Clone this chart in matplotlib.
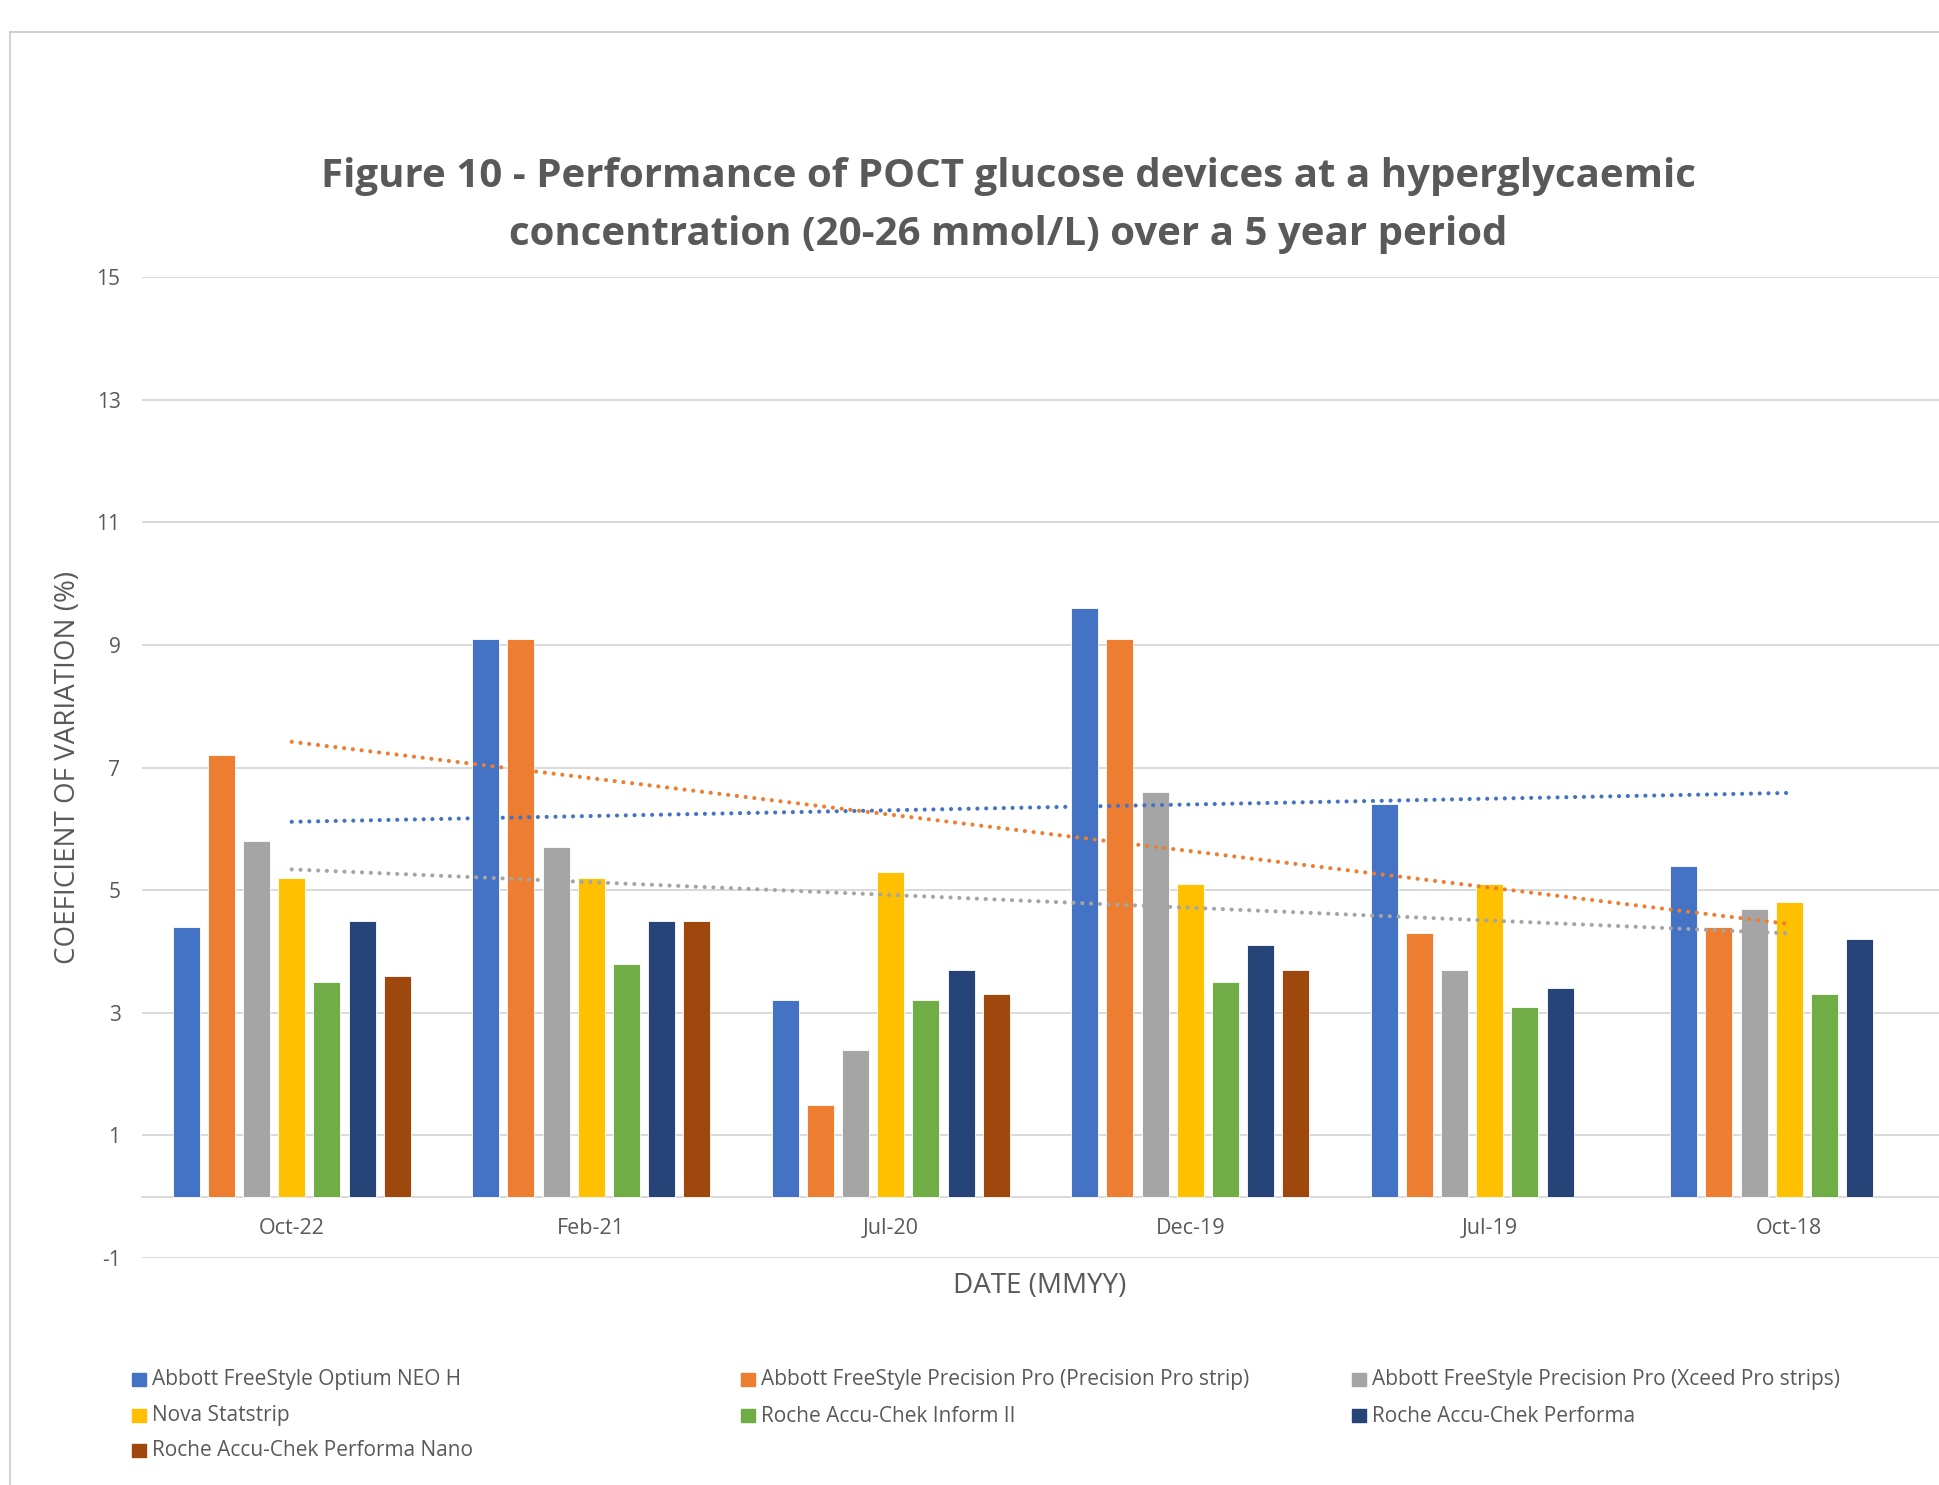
import numpy as np
import matplotlib.pyplot as plt
from matplotlib.patches import Rectangle
from matplotlib.lines import Line2D

plt.rcParams['font.family'] = ['Open Sans', 'DejaVu Sans']
plt.rcParams['axes.unicode_minus'] = False

# ---------------- data ----------------
dates = ['Oct-22', 'Feb-21', 'Jul-20', 'Dec-19', 'Jul-19', 'Oct-18']

devices = ['Abbott FreeStyle Optium NEO H',
           'Abbott FreeStyle Precision Pro (Precision Pro strip)',
           'Abbott FreeStyle Precision Pro (Xceed Pro strips)',
           'Nova Statstrip',
           'Roche Accu-Chek Inform II',
           'Roche Accu-Chek Performa',
           'Roche Accu-Chek Performa Nano']

optium_neo = [4.4, 9.1, 3.2, 9.6, 6.4, 5.4]
precision_pro = [7.2, 9.1, 1.5, 9.1, 4.3, 4.4]
xceed_pro = [5.8, 5.7, 2.4, 6.6, 3.7, 4.7]
nova = [5.2, 5.2, 5.3, 5.1, 5.1, 4.8]
inform2 = [3.5, 3.8, 3.2, 3.5, 3.1, 3.3]
performa = [4.5, 4.5, 3.7, 4.1, 3.4, 4.2]
performa_nano = [3.6, 4.5, 3.3, 3.7, np.nan, np.nan]

series = [optium_neo, precision_pro, xceed_pro, nova, inform2, performa, performa_nano]
colors = ['#4472C4', '#ED7D31', '#A5A5A5', '#FFC000', '#70AD47', '#264478', '#9E480E']
trend_series = [0, 1, 2]   # linear trendlines shown for the first three devices

txt = '#595959'
grid_c = '#D9D9D9'

# ---------------- figure ----------------
W, H = 1939, 1485
fig = plt.figure(figsize=(W / 100, H / 100), dpi=100)

# chart-area border (cropped on right / bottom)
fig.add_artist(Line2D([10 / W, 10 / W], [0, 1 - 32 / H], color='#C8C8C8', lw=1.2))
fig.add_artist(Line2D([10 / W, 1], [1 - 32 / H, 1 - 32 / H], color='#C8C8C8', lw=1.2))

ax = fig.add_axes([142 / W, 1 - 1258 / H, 1797 / W, 981 / H])

x = np.arange(len(dates))
pitch = 0.1174
width = 0.0902
for j, vals in enumerate(series):
    ax.bar(x + (j - 3) * pitch, vals, width, color=colors[j], edgecolor='white',
           linewidth=0.6, zorder=3, label=devices[j])

for j in trend_series:
    k, b = np.polyfit(x, series[j], 1)
    ax.plot(x, k * x + b, color=colors[j], lw=3.0, linestyle=(0, (0.01, 2.1)),
            dash_capstyle='round', zorder=4)

ax.set_xlim(-0.5, 5.5)
ax.set_ylim(-1, 15)
ax.set_yticks(range(-1, 16, 2))
ax.set_xticks(x)
ax.set_xticklabels(dates)
ax.grid(axis='y', color=grid_c, lw=1.4, zorder=0)
ax.set_axisbelow(True)

for s in ['top', 'right', 'left']:
    ax.spines[s].set_visible(False)
ax.spines['bottom'].set_position(('data', 0))
ax.spines['bottom'].set_color(grid_c)
ax.spines['bottom'].set_linewidth(1.4)

ax.tick_params(axis='y', length=0, pad=15.5, labelsize=15, labelcolor=txt)
ax.tick_params(axis='x', length=0, pad=15.5, labelsize=15.5, labelcolor=txt)

ax.set_xlabel('DATE (MMYY)', fontsize=20, color=txt)
ax.xaxis.set_label_coords(0.4997, -0.029)
ax.xaxis.label.set_va('center')
ax.set_ylabel('COEFICIENT OF VARIATION (%)', fontsize=20, color=txt)
ax.yaxis.set_label_coords(-0.0412, 0.5)
ax.yaxis.label.set_va('center')

fig.text(1008 / W, 1 - 176 / H, 'Figure 10 - Performance of POCT glucose devices at a hyperglycaemic',
         ha='center', va='center', fontsize=29, fontweight='bold', color=txt)
fig.text(1008 / W, 1 - 235 / H, 'concentration (20-26 mmol/L) over a 5 year period',
         ha='center', va='center', fontsize=29, fontweight='bold', color=txt)

# legend laid out like the original: three columns, row-major
col_x = [132, 741, 1352]
row_y = [1380, 1416, 1451]
for j, name in enumerate(devices):
    r, c = divmod(j, 3)
    fig.add_artist(Rectangle((col_x[c] / W, 1 - (row_y[r] + 6) / H), 14 / W, 13 / H,
                             transform=fig.transFigure, color=colors[j]))
    fig.text((col_x[c] + 20) / W, 1 - row_y[r] / H, name, ha='left', va='center',
             fontsize=15, color=txt)

fig.savefig('out.png', dpi=100, facecolor='white')
